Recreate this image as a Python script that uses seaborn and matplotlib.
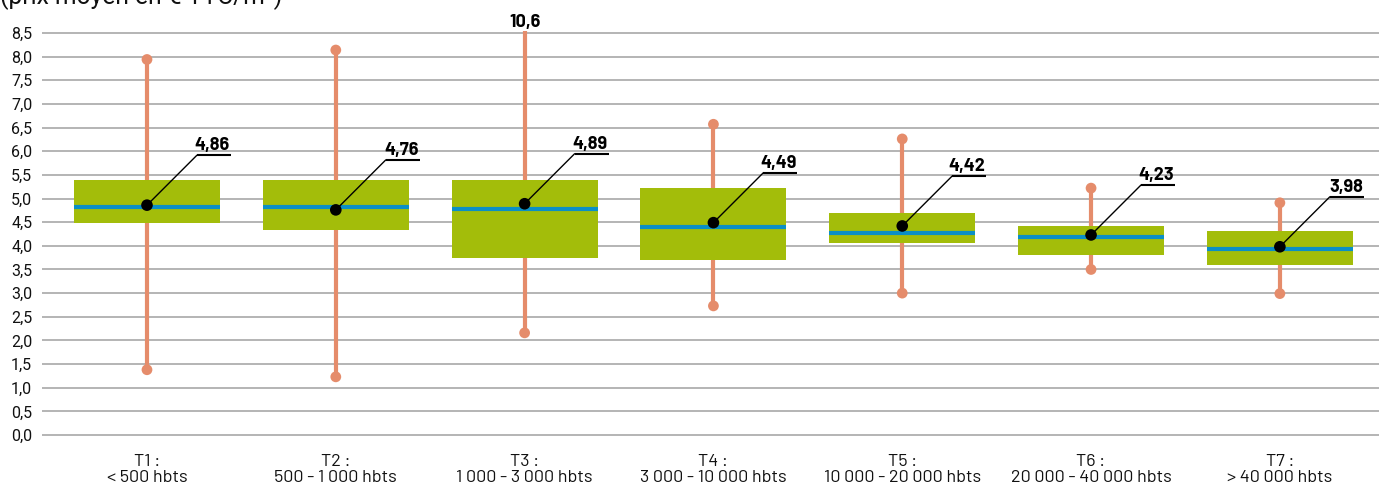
import matplotlib
matplotlib.use("Agg")
import matplotlib.pyplot as plt
from matplotlib.ticker import FuncFormatter, MultipleLocator
from matplotlib.transforms import offset_copy
import numpy as np
import pandas as pd
import seaborn as sns

# Price distribution per municipality size class (€ TTC / m³)
categories = ["T1 :\n< 500 hbts", "T2 :\n500 - 1 000 hbts", "T3 :\n1 000 - 3 000 hbts",
              "T4 :\n3 000 - 10 000 hbts", "T5 :\n10 000 - 20 000 hbts",
              "T6 :\n20 000 - 40 000 hbts", "T7 :\n> 40 000 hbts"]
whisker_low = [1.38, 1.23, 2.16, 2.73, 3.00, 3.50, 2.99]
q1 = [4.48, 4.33, 3.75, 3.71, 4.05, 3.81, 3.60]
median = [4.83, 4.83, 4.78, 4.40, 4.28, 4.18, 3.94]
q3 = [5.39, 5.39, 5.39, 5.22, 4.69, 4.42, 4.31]
whisker_high = [7.94, 8.14, 10.6, 6.57, 6.26, 5.22, 4.91]
mean = [4.86, 4.76, 4.89, 4.49, 4.42, 4.23, 3.98]

GREEN = "#A3BD0A"
BLUE = "#0B8FC6"
SALMON = "#E58C6B"
GRID = "#B4B4B4"
YMAX = 8.5
DIN = ["Barlow", "Barlow Semi Condensed", "DejaVu Sans"]
PLAIN = ["Roboto", "DejaVu Sans"]

sns.set_theme(style="white")
plt.rcParams["font.family"] = DIN

W, H = 1379, 486
fig = plt.figure(figsize=(W / 100, H / 100), dpi=100)
pad = 0.05
ppu = 47.3  # pixels per value unit
bottom_px = 435 + pad * ppu
top_px = 33 - pad * ppu
ax = fig.add_axes([42 / W, (H - bottom_px) / H, (W - 42) / W, (bottom_px - top_px) / H])
ax.set_ylim(-pad, YMAX + pad)
ax.set_xlim(-0.556, 6.525)

# horizontal grid
ax.yaxis.set_major_locator(MultipleLocator(0.5))
ax.grid(axis="y", color=GRID, linewidth=1.4, zorder=0)
ax.grid(axis="x", visible=False)
for s in ax.spines.values():
    s.set_visible(False)

# boxes + whiskers from precomputed statistics
stats = [dict(med=median[i], q1=q1[i], q3=q3[i], whislo=whisker_low[i],
              whishi=whisker_high[i], fliers=[]) for i in range(len(categories))]
pos = np.arange(len(categories))
ax.bxp(stats, positions=pos, widths=0.773, patch_artist=True, showcaps=False,
       showfliers=False, manage_ticks=False,
       boxprops=dict(facecolor=GREEN, edgecolor="none", linewidth=0, zorder=3),
       whiskerprops=dict(color=SALMON, linewidth=3, zorder=2),
       medianprops=dict(color=BLUE, linewidth=3, zorder=4))

# whisker end points (only those inside the axis range)
df = pd.DataFrame({"x": pos, "lo": whisker_low, "hi": whisker_high, "mean": mean})
ends = pd.concat([df[["x", "lo"]].rename(columns={"lo": "v"}),
                  df[["x", "hi"]].rename(columns={"hi": "v"})])
ends = ends[ends["v"] <= YMAX]
sns.scatterplot(data=ends, x="x", y="v", color=SALMON, s=60, edgecolor="none",
                zorder=2.5, ax=ax, legend=False)

# mean markers
sns.scatterplot(data=df, x="x", y="mean", color="black", s=70, edgecolor="none",
                zorder=6, ax=ax, legend=False)


def fmt(v, nd=2):
    return f"{v:.{nd}f}".replace(".", ",")


# leader lines and mean labels
for i, m in enumerate(mean):
    ax.annotate("", xy=(i, m), xytext=(50, 50), textcoords="offset pixels",
                arrowprops=dict(arrowstyle="-", color="black", lw=1.0,
                                shrinkA=0, shrinkB=0), zorder=6)
    tr0 = offset_copy(ax.transData, fig=fig, x=50, y=50, units="dots")
    tr1 = offset_copy(ax.transData, fig=fig, x=84, y=50, units="dots")
    p0 = tr0.transform((i, m))
    p1 = tr1.transform((i, m))
    ax.plot([p0[0], p1[0]], [p0[1], p1[1]], color="black", lw=1.5,
            solid_capstyle="butt", transform=None, zorder=6)
    ax.annotate(fmt(m), xy=(i, m), xytext=(83, 55), textcoords="offset pixels",
                ha="right", va="baseline", fontsize=13, fontweight="bold",
                color="black", zorder=7)

# values beyond the axis range
for i, hi in enumerate(whisker_high):
    if hi > YMAX:
        ax.annotate(fmt(hi, 1), xy=(i, YMAX), xytext=(0, 6), textcoords="offset pixels",
                    ha="center", va="baseline", fontsize=13, fontweight="bold",
                    color="black", annotation_clip=False)

ax.set_xticks(pos)
ax.set_xticklabels(categories, fontsize=13, color="#111111", linespacing=1.12)
ax.yaxis.set_major_formatter(FuncFormatter(lambda v, _: fmt(v, 1)))
ax.tick_params(axis="y", length=0, pad=7, labelsize=11.5, labelcolor="#111111")
ax.tick_params(axis="x", length=0, pad=12)
for lab in ax.get_yticklabels():
    lab.set_fontfamily(PLAIN)
ax.set_xlabel("")
ax.set_ylabel("")

fig.text(0.0, 1 - 4 / H, "(prix moyen en € TTC/m³)", ha="left", va="baseline",
         fontsize=17.7, family=PLAIN, color="#111111")

fig.savefig("out.png", dpi=100)
